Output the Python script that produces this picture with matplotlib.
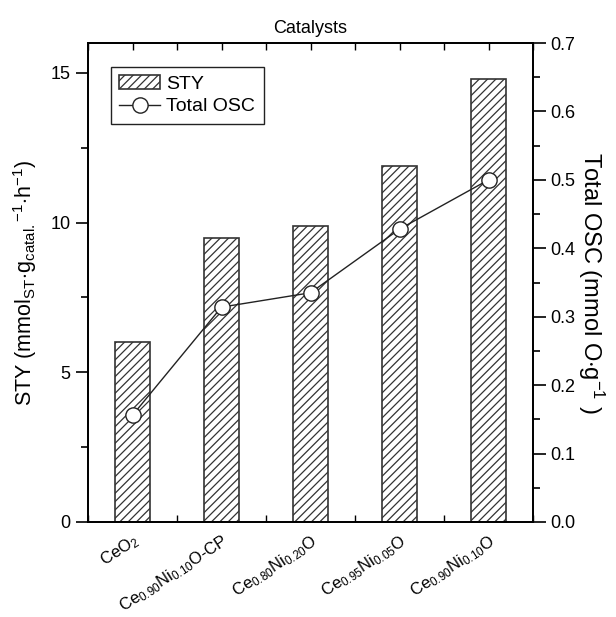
import matplotlib
matplotlib.use("Agg")
from matplotlib import pyplot as plt
from matplotlib.ticker import MultipleLocator

plt.rcParams['font.family'] = ['Liberation Sans', 'DejaVu Sans']
plt.rcParams['mathtext.fontset'] = 'custom'
plt.rcParams['mathtext.rm'] = 'Liberation Sans'
plt.rcParams['mathtext.it'] = 'Liberation Sans'
plt.rcParams['hatch.linewidth'] = 0.9

# data
catalysts = [r'CeO$_{2}$',
             r'Ce$_{0.90}$Ni$_{0.10}$O-CP',
             r'Ce$_{0.80}$Ni$_{0.20}$O',
             r'Ce$_{0.95}$Ni$_{0.05}$O',
             r'Ce$_{0.90}$Ni$_{0.10}$O']
sty = [6.0, 9.5, 9.9, 11.9, 14.8]
total_osc = [0.156, 0.314, 0.335, 0.428, 0.50]

x = list(range(len(catalysts)))

fig = plt.figure(figsize=(6.16, 6.17), dpi=100)
ax = fig.add_axes([88/616, 1 - 522/617, (533-88)/616, (522-43)/617])
ax2 = ax.twinx()

bars = ax.bar(x, sty, width=0.4, color='white', edgecolor='#333333',
              linewidth=1.2, hatch='////', label='STY', zorder=2)
line, = ax2.plot(x, total_osc, color='#222222', lw=1.0, marker='o', ms=11,
                 mfc='white', mec='#222222', mew=1.0, label='Total OSC')

ax.set_xlim(-0.5, 4.5)
ax.set_ylim(0, 16)
ax2.set_ylim(0, 0.7)

ax.yaxis.set_major_locator(MultipleLocator(5))
ax.yaxis.set_minor_locator(MultipleLocator(2.5))
ax2.yaxis.set_major_locator(MultipleLocator(0.1))
ax2.yaxis.set_minor_locator(MultipleLocator(0.05))
ax.set_xticks(x)
ax.xaxis.set_minor_locator(MultipleLocator(0.5))

ax.set_xticklabels(catalysts, rotation=33, ha='right', rotation_mode='anchor',
                   fontsize=12)
ax.tick_params(axis='x', which='both', direction='in', top=True, length=5,
               width=1, pad=7)
ax.tick_params(axis='y', which='major', direction='out', length=9, width=1.2,
               labelsize=13)
ax.tick_params(axis='y', which='minor', direction='out', length=5, width=1.2)
ax2.tick_params(axis='y', which='major', direction='out', length=9, width=1.2,
                labelsize=13)
ax2.tick_params(axis='y', which='minor', direction='out', length=5, width=1.2)

for a in (ax, ax2):
    for s in a.spines.values():
        s.set_linewidth(1.3)

ax.set_title('Catalysts', fontsize=13, pad=7)
ax.set_ylabel(r'STY (mmol$_{\mathregular{ST}}$$\cdot$g$_{\mathregular{catal.}}$$^{-1}$$\cdot$h$^{-1}$)',
              fontsize=15.5, labelpad=8)
ax2.set_ylabel(r'Total OSC (mmol O$\cdot$g$^{-1}$ )', fontsize=17,
               rotation=-90, labelpad=22)

leg = ax.legend([bars, line], ['STY', 'Total OSC'], loc='upper left',
                bbox_to_anchor=(0.029, 0.971), fontsize=14, fancybox=False,
                edgecolor='#222222', framealpha=1, borderpad=0.45,
                handlelength=2.1, handletextpad=0.3, labelspacing=0.25)
leg.get_frame().set_linewidth(1.0)

fig.savefig('out.png', dpi=100)
